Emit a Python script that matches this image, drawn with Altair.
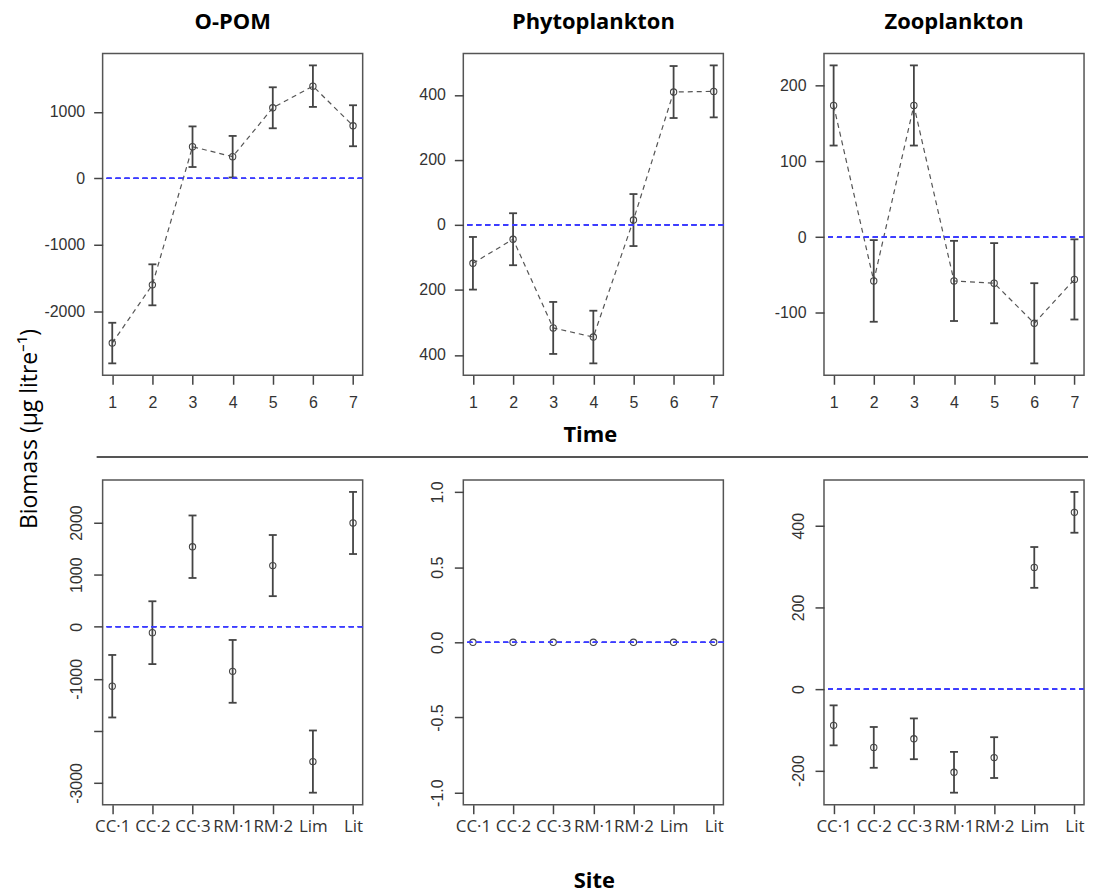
import altair as alt
import pandas as pd

# ---------------- data ----------------
times = [1, 2, 3, 4, 5, 6, 7]
sites = ["CC·1", "CC·2", "CC·3", "RM·1", "RM·2", "Lim", "Lit"]
panel_titles = ["O-POM", "Phytoplankton", "Zooplankton"]

opom_time_mean = [-2475, -1600, 475, 325, 1060, 1385, 790]
opom_time_err = [305, 308, 305, 312, 308, 312, 308]
phyto_time_mean = [-118, -44, -317, -345, 15, 409, 411]
phyto_time_err = [81, 80, 80, 81, 80, 80, 80]
zoo_time_mean = [174, -58, 174, -58, -61, -114, -56]
zoo_time_err = [53, 54, 53, 53, 53, 53, 53]

opom_site_mean = [-1142, -114, 1536, -857, 1174, -2589, 1992]
opom_site_err = [600, 603, 600, 603, 587, 597, 596]
phyto_site_mean = [0, 0, 0, 0, 0, 0, 0]
phyto_site_err = [0, 0, 0, 0, 0, 0, 0]
zoo_site_mean = [-89, -143, -122, -204, -168, 298, 433]
zoo_site_err = [49, 50, 50, 50, 50, 50, 50]

opom_time_ticks = [-2000, -1000, 0, 1000]
phyto_time_ticks = [-400, -200, 0, 200, 400]
zoo_time_ticks = [-100, 0, 100, 200]
opom_site_ticks = [-3000, -2000, -1000, 0, 1000, 2000]
phyto_site_ticks = [-1.0, -0.5, 0.0, 0.5, 1.0]
zoo_site_ticks = [-200, 0, 200, 400]

y_label = "Biomass (µg litre⁻¹)"
time_label = "Time"
site_label = "Site"

NUM_FONT = "Liberation Sans"
TXT_FONT = "Open Sans"
INK = "#444444"

W = 261
TH = 323
BH = 326
COL_GAP = 101
ROW_GAP = 105
HYPHEN = "replace(datum.label, '\u2212', '-')"


def ylim(mean, err):
    lo = min(m - e for m, e in zip(mean, err))
    hi = max(m + e for m, e in zip(mean, err))
    if hi == lo:
        lo, hi = lo - 1, hi + 1
    pad = 0.04 * (hi - lo)
    return [lo - pad, hi + pad]


def panel(kind, mean, err, yticks, h, title=None, yfmt="d", label_expr=HYPHEN,
          rotate=False, xtitle=None, xtitle_pos=None, extra=None):
    xs = times if kind == "time" else sites
    df = pd.DataFrame({
        "x": xs,
        "m": mean,
        "lo": [m - e for m, e in zip(mean, err)],
        "hi": [m + e for m, e in zip(mean, err)],
    })
    xt = dict(title=xtitle) if xtitle else dict(title=None)
    if xtitle:
        xt.update(titleFont=TXT_FONT, titleFontSize=22, titleFontWeight="bold",
                  titleColor="black", titleBaseline="alphabetic",
                  titleX=xtitle_pos[0], titleY=xtitle_pos[1])
    if kind == "time":
        xenc = alt.X("x:Q", scale=alt.Scale(domain=[0.76, 7.24], nice=False, zero=False),
                     axis=alt.Axis(values=times, format="d", labelFont=NUM_FONT,
                                   labelFontSize=16, labelPadding=10, **xt))
    else:
        xenc = alt.X("x:N", sort=sites, scale=alt.Scale(type="point", padding=0.24),
                     axis=alt.Axis(labelAngle=0, labelFont=TXT_FONT, labelFontSize=17,
                                   labelPadding=5, **xt))
    yax = dict(values=yticks, format=yfmt, labelFont=NUM_FONT, labelFontSize=16,
               title=None, labelPadding=9, labelExpr=label_expr)
    if rotate:
        yax.update(labelAngle=270, labelAlign="center", labelBaseline="bottom")
    yenc = alt.Y("m:Q", scale=alt.Scale(domain=ylim(mean, err), nice=False, zero=False),
                 axis=alt.Axis(**yax))

    base = alt.Chart(df)
    layers = []
    if kind == "time":
        layers.append(base.mark_line(color="#555555", strokeDash=[5, 4], strokeWidth=1.2)
                      .encode(x=xenc, y=yenc))
    bars = base.transform_filter("datum.hi > datum.lo")
    layers.append(bars.mark_rule(color=INK, strokeWidth=1.8)
                  .encode(x=xenc, y=alt.Y("lo:Q"), y2="hi:Q"))
    layers.append(bars.mark_tick(orient="horizontal", size=8, thickness=1.8, color=INK, opacity=1)
                  .encode(x=xenc, y=alt.Y("lo:Q")))
    layers.append(bars.mark_tick(orient="horizontal", size=8, thickness=1.8, color=INK, opacity=1)
                  .encode(x=xenc, y=alt.Y("hi:Q")))
    layers.append(base.mark_point(shape="circle", filled=False, size=40, color=INK,
                                  strokeWidth=1.1, opacity=1)
                  .encode(x=xenc, y=yenc))
    layers.append(base.mark_rule(color="#3c3cff", strokeDash=[5, 4], strokeWidth=1.2)
                  .encode(y=alt.datum(0)))
    if extra:
        layers.extend(extra)
    props = dict(width=W, height=h)
    if title:
        props["title"] = alt.TitleParams(title, font=TXT_FONT, fontSize=22, fontWeight="bold",
                                         color="black", offset=20, anchor="middle")
    return alt.layer(*layers).properties(**props)


# decorations: y label (in first panel) and separator rule (in middle panel)
ylab = alt.Chart(pd.DataFrame({"t": [y_label]})).mark_text(
    angle=270, font=TXT_FONT, fontSize=23, align="center", baseline="alphabetic", color="black"
).encode(text="t:N", x=alt.value(-66), y=alt.value(377))
mid_left = W + COL_GAP
sep = alt.Chart(pd.DataFrame({"t": [0]})).mark_rule(color="#555555", strokeWidth=2).encode(
    x=alt.value(-(mid_left - 97 + 103)), x2=alt.value(1092 - 103 - mid_left), y=alt.value(405))

p1 = panel("time", opom_time_mean, opom_time_err, opom_time_ticks, TH,
           title=panel_titles[0], extra=[ylab])
p2 = panel("time", phyto_time_mean, phyto_time_err, phyto_time_ticks, TH,
           title=panel_titles[1], label_expr="format(abs(datum.value), 'd')",
           xtitle=time_label, xtitle_pos=(592 - 103 - mid_left, 66), extra=[sep])
p3 = panel("time", zoo_time_mean, zoo_time_err, zoo_time_ticks, TH, title=panel_titles[2])

p4 = panel("site", opom_site_mean, opom_site_err, opom_site_ticks, BH,
           label_expr="datum.value == -2000 ? '' : " + HYPHEN, rotate=True)
p5 = panel("site", phyto_site_mean, phyto_site_err, phyto_site_ticks, BH,
           yfmt=".1f", rotate=True, xtitle=site_label, xtitle_pos=(596 - 103 - mid_left, 83))
p6 = panel("site", zoo_site_mean, zoo_site_err, zoo_site_ticks, BH, rotate=True)

chart = alt.concat(
    p1, p2, p3, p4, p5, p6, columns=3,
    spacing={"row": ROW_GAP, "column": COL_GAP}, bounds="flush", align="each",
).properties(
    padding={"left": 18, "top": 8, "right": 5, "bottom": 12},
    background="white",
).configure_view(
    stroke="#555555", strokeWidth=1.5
).configure_axis(
    domain=False, grid=False, ticks=True, tickSize=9, tickColor=INK, tickWidth=1.5,
    labelColor="#333333", labelFontSize=15,
)

chart.save("out.html", embed_options={"renderer": "svg", "actions": False})
